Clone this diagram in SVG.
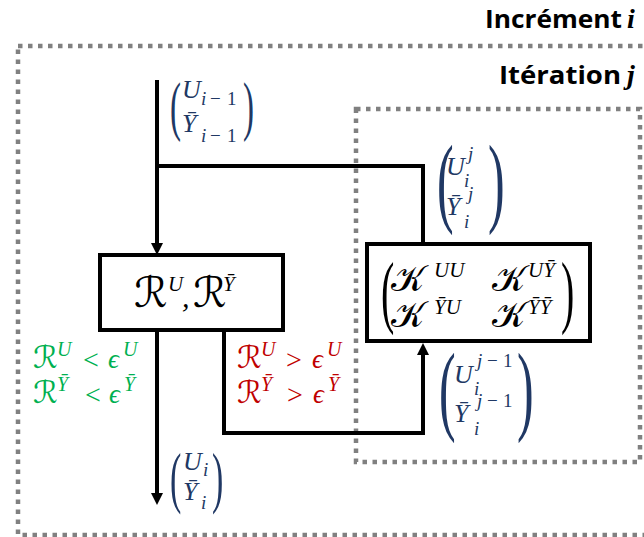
<svg xmlns="http://www.w3.org/2000/svg" width="644" height="537" viewBox="0 0 644 537">
<defs>
<style>
.frame{fill:none;stroke:#808080;stroke-width:4.5;stroke-dasharray:4.5 5.5}
.ttl{font-family:"Open Sans","Liberation Sans",sans-serif;font-weight:bold;fill:#000}
.tv{font-family:"Liberation Serif",serif;font-style:italic;font-weight:bold}
.m{font-family:"Liberation Serif","DejaVu Serif",serif;font-style:italic}
.sc{font-family:"DejaVu Sans","Noto Sans",serif;font-style:normal}
.par{font-family:"Liberation Serif",serif;font-style:normal}
.blue{fill:#203864}
.green{fill:#00b050}
.red{fill:#c00000}
.blk{fill:#000}
.box{fill:#fff;stroke:#000;stroke-width:4}
.wire{fill:none;stroke:#000;stroke-width:4}
</style>
<marker id="ah" viewBox="0 0 12 12" refX="1" refY="6" markerWidth="12" markerHeight="12" markerUnits="userSpaceOnUse" orient="auto">
<path d="M0,0 L12,6 L0,12 z" fill="#000"/>
</marker>
</defs>
<rect width="644" height="537" fill="#fff"/>

<g id="frame-increment">
<rect class="frame" x="18" y="46" width="660" height="489"/>
<text class="ttl" font-size="25" x="485" y="28" textLength="137" lengthAdjust="spacingAndGlyphs">Incrément</text>
<text class="tv" font-size="28" x="627" y="28">i</text>
</g>
<g id="frame-iteration">
<rect class="frame" x="356" y="109" width="284" height="353"/>
<text class="ttl" font-size="25" x="499" y="84" textLength="122" lengthAdjust="spacingAndGlyphs">Itération</text>
<text class="tv" font-size="28" x="627" y="84">j</text>
</g>

<g id="connectors">
<path class="wire" d="M157,80 V244" marker-end="url(#ah)"/>
<path class="wire" d="M157,166 H423 V244"/>
<path class="wire" d="M157,330 V494" marker-end="url(#ah)"/>
<path class="wire" d="M224,330 V433 H423 V354" marker-end="url(#ah)"/>
</g>

<g id="node-residual">
<rect class="box" x="100" y="255" width="183" height="75"/>
<text class="sc blk" font-size="42" x="134" y="307">ℛ</text>
<text class="m blk" font-size="21" x="168" y="291">U</text>
<text class="m blk" font-size="30" x="182" y="307">,</text>
<text class="sc blk" font-size="42" x="193" y="307">ℛ</text>
<text class="m blk" font-size="21" x="223" y="291">Ȳ</text>
</g>

<g id="node-stiffness">
<rect class="box" x="367" y="244" width="223" height="97"/>
<text class="par blk" font-size="40" transform="translate(381,318) scale(1,2)">(</text>
<text class="par blk" font-size="40" transform="translate(561,318) scale(1,2)">)</text>
<text class="sc blk" font-size="36" x="391" y="291">𝒦</text>
<text class="m blk" font-size="21" x="434" y="277">UU</text>
<text class="sc blk" font-size="36" x="492" y="291">𝒦</text>
<text class="m blk" font-size="21" x="528" y="277">UȲ</text>
<text class="sc blk" font-size="36" x="391" y="327">𝒦</text>
<text class="m blk" font-size="21" x="434" y="314">ȲU</text>
<text class="sc blk" font-size="36" x="492" y="327">𝒦</text>
<text class="m blk" font-size="21" x="528" y="314">ȲȲ</text>
</g>

<g id="label-input">
<text class="par blue" font-size="33" transform="translate(170,128) scale(1,2)">(</text>
<text class="par blue" font-size="33" transform="translate(243,128) scale(1,2)">)</text>
<text class="m blue" font-size="26" x="182" y="98">U</text>
<text class="m blue" font-size="19" x="201" y="105">i<tspan class="par" x="210">−</tspan><tspan class="par" x="227">1</tspan></text>
<text class="m blue" font-size="26" x="182" y="132">Ȳ</text>
<text class="m blue" font-size="19" x="201" y="142">i<tspan class="par" x="210">−</tspan><tspan class="par" x="227">1</tspan></text>
</g>

<g id="label-iter-out">
<text class="par blue" font-size="50" transform="translate(437,214) scale(1,2)">(</text>
<text class="par blue" font-size="50" transform="translate(488,214) scale(1,2)">)</text>
<text class="m blue" font-size="26" x="446" y="175">U</text>
<text class="m blue" font-size="19" x="468" y="160">j</text>
<text class="m blue" font-size="19" x="464" y="187">i</text>
<text class="m blue" font-size="26" x="446" y="215">Ȳ</text>
<text class="m blue" font-size="19" x="468" y="200">j</text>
<text class="m blue" font-size="19" x="464" y="228">i</text>
</g>

<g id="label-iter-in">
<text class="par blue" font-size="50" transform="translate(439,422) scale(1,2)">(</text>
<text class="par blue" font-size="50" transform="translate(517,422) scale(1,2)">)</text>
<text class="m blue" font-size="26" x="454" y="383">U</text>
<text class="m blue" font-size="19" x="477" y="367">j<tspan class="par" x="487">−</tspan><tspan class="par" x="503">1</tspan></text>
<text class="m blue" font-size="19" x="474" y="395">i</text>
<text class="m blue" font-size="26" x="454" y="422">Ȳ</text>
<text class="m blue" font-size="19" x="477" y="407">j<tspan class="par" x="487">−</tspan><tspan class="par" x="503">1</tspan></text>
<text class="m blue" font-size="19" x="474" y="435">i</text>
</g>

<g id="label-output">
<text class="par blue" font-size="34" transform="translate(170,500) scale(1,2)">(</text>
<text class="par blue" font-size="34" transform="translate(212,500) scale(1,2)">)</text>
<text class="m blue" font-size="26" x="183" y="470">U</text>
<text class="m blue" font-size="19" x="203" y="476">i</text>
<text class="m blue" font-size="26" x="183" y="500">Ȳ</text>
<text class="m blue" font-size="19" x="201" y="509">i</text>
</g>

<g id="label-converged">
<text class="sc green" font-size="31" x="33" y="368">ℛ</text>
<text class="m green" font-size="20" x="57" y="356">U</text>
<text class="par green" font-size="28" x="83" y="369">&lt;</text>
<text class="m green" font-size="27" x="108" y="368">ϵ</text>
<text class="m green" font-size="20" x="123" y="356">U</text>
<text class="sc green" font-size="31" x="33" y="403">ℛ</text>
<text class="m green" font-size="20" x="57" y="391">Ȳ</text>
<text class="par green" font-size="28" x="85" y="404">&lt;</text>
<text class="m green" font-size="27" x="109" y="403">ϵ</text>
<text class="m green" font-size="20" x="124" y="391">Ȳ</text>
</g>

<g id="label-not-converged">
<text class="sc red" font-size="31" x="237" y="368">ℛ</text>
<text class="m red" font-size="20" x="261" y="356">U</text>
<text class="par red" font-size="28" x="286" y="369">&gt;</text>
<text class="m red" font-size="27" x="312" y="368">ϵ</text>
<text class="m red" font-size="20" x="327" y="356">U</text>
<text class="sc red" font-size="31" x="237" y="403">ℛ</text>
<text class="m red" font-size="20" x="261" y="391">Ȳ</text>
<text class="par red" font-size="28" x="287" y="404">&gt;</text>
<text class="m red" font-size="27" x="313" y="403">ϵ</text>
<text class="m red" font-size="20" x="328" y="391">Ȳ</text>
</g>
</svg>
